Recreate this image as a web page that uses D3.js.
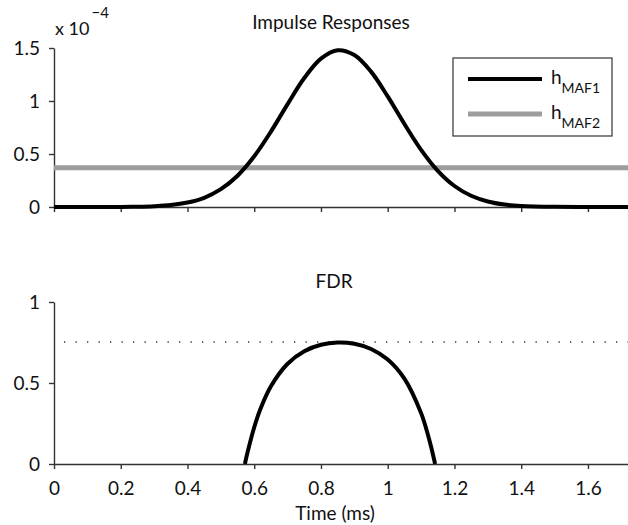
<!DOCTYPE html>
<html>
<head>
<meta charset="utf-8">
<script src="https://cdn.jsdelivr.net/npm/d3@7"></script>
<style>
  body { margin: 0; background: #fff; }
  text { font-family: Lato, "Open Sans", sans-serif; fill: #111; }
  .axis path, .axis line { stroke: #333; stroke-width: 1.4; }
  .axis text { font-size: 19px; font-family: Lato, "Open Sans", sans-serif; fill: #111; }
</style>
</head>
<body>
<svg id="chart" width="628" height="525"></svg>
<script>

// impulse response h_MAF1 (x 1e-4)
var timeH = [0, 0.1, 0.2, 0.25, 0.3, 0.35, 0.4, 0.45, 0.5, 0.55, 0.6, 0.65, 0.7, 0.75, 0.8, 0.85, 0.9, 0.95, 1.0, 1.05, 1.1, 1.15, 1.2, 1.25, 1.3, 1.35, 1.4, 1.5, 1.6, 1.72];
var hMaf1 = [0, 0.0001, 0.0009, 0.0027, 0.0074, 0.018, 0.042, 0.087, 0.168, 0.295, 0.478, 0.711, 0.971, 1.217, 1.400, 1.479, 1.434, 1.277, 1.043, 0.783, 0.539, 0.341, 0.198, 0.106, 0.052, 0.023, 0.0096, 0.0013, 0.0001, 0];
// h_MAF2 is flat
var timeFlat = [0, 1.72];
var hMaf2 = [0.37, 0.37];

// FDR curve
var timeFdr = [0.572, 0.58, 0.6, 0.62, 0.65, 0.7, 0.75, 0.8, 0.85, 0.9, 0.95, 1.0, 1.05, 1.1, 1.12, 1.13, 1.142];
var fdr = [0, 0.072, 0.227, 0.347, 0.480, 0.619, 0.696, 0.736, 0.750, 0.742, 0.710, 0.645, 0.527, 0.314, 0.184, 0.106, 0];
var fdrMax = 0.753;

var xTicks = [0, 0.2, 0.4, 0.6, 0.8, 1, 1.2, 1.4, 1.6];
var yTicksTop = [0, 0.5, 1, 1.5];
var yTicksBottom = [0, 0.5, 1];

var svg = d3.select('#chart');
var fmt = d3.format('~g');

var x = d3.scaleLinear().domain([0, 1.72]).range([54, 628]);
var yTop = d3.scaleLinear().domain([0, 1.5]).range([207, 48]);
var yBot = d3.scaleLinear().domain([0, 1]).range([464, 302]);

svg.append('defs').append('clipPath').attr('id', 'clipBot')
	.append('rect').attr('x', 54).attr('y', 290).attr('width', 574).attr('height', 174);

// top panel
svg.append('g').attr('class', 'axis')
	.attr('transform', 'translate(0,' + yTop(0) + ')')
	.call(d3.axisBottom(x).tickValues(xTicks).tickSize(5).tickSizeOuter(0).tickFormat(''));
svg.append('g').attr('class', 'axis')
	.attr('transform', 'translate(' + x(0) + ',0)')
	.call(d3.axisLeft(yTop).tickValues(yTicksTop).tickSize(5).tickSizeOuter(0).tickPadding(9).tickFormat(fmt));

var lineTop = d3.line().x(function (d) { return x(d[0]); }).y(function (d) { return yTop(d[1]); });

svg.append('path')
	.datum(d3.zip(timeFlat, hMaf2))
	.attr('d', lineTop)
	.attr('fill', 'none').attr('stroke', '#9d9d9d').attr('stroke-width', 5);
svg.append('path')
	.datum(d3.zip(timeH, hMaf1))
	.attr('d', lineTop.curve(d3.curveCatmullRom))
	.attr('fill', 'none').attr('stroke', '#000').attr('stroke-width', 4);

svg.append('text').attr('x', 331).attr('y', 29).attr('text-anchor', 'middle')
	.style('font-size', '19px').text('Impulse Responses');

var expo = svg.append('text').attr('x', 55).attr('y', 35).style('font-size', '18px');
expo.append('tspan').text('x 10');
expo.append('tspan').attr('dx', 2).attr('dy', -17).style('font-size', '15px').text('\u22124');

// legend
var leg = svg.append('g');
leg.append('rect').attr('x', 453).attr('y', 58).attr('width', 159).attr('height', 78)
	.attr('fill', '#fff').attr('stroke', '#333').attr('stroke-width', 1.2);
[['MAF1', '#000', 4, 79], ['MAF2', '#9d9d9d', 5, 114]].forEach(function (d) {
	leg.append('line').attr('x1', 468).attr('x2', 542).attr('y1', d[3]).attr('y2', d[3])
		.attr('stroke', d[1]).attr('stroke-width', d[2]);
	var t = leg.append('text').attr('x', 551).attr('y', d[3] + 5).style('font-size', '19px');
	t.append('tspan').text('h');
	t.append('tspan').attr('dy', 9).style('font-size', '14px').text(d[0]);
});

// bottom panel
svg.append('g').attr('class', 'axis')
	.attr('transform', 'translate(0,' + yBot(0) + ')')
	.call(d3.axisBottom(x).tickValues(xTicks).tickSize(5).tickSizeOuter(0).tickPadding(13).tickFormat(fmt));
svg.append('g').attr('class', 'axis')
	.attr('transform', 'translate(' + x(0) + ',0)')
	.call(d3.axisLeft(yBot).tickValues(yTicksBottom).tickSize(5).tickSizeOuter(0).tickPadding(9).tickFormat(fmt));

svg.append('line')
	.attr('x1', x(0.03)).attr('x2', x(1.72)).attr('y1', yBot(fdrMax)).attr('y2', yBot(fdrMax))
	.attr('stroke', '#333').attr('stroke-width', 1.3).attr('stroke-dasharray', '1.3,10.2');

var lineBot = d3.line().x(function (d) { return x(d[0]); }).y(function (d) { return yBot(d[1]); })
	.curve(d3.curveCatmullRom);
svg.append('path')
	.datum(d3.zip(timeFdr, fdr))
	.attr('d', lineBot)
	.attr('clip-path', 'url(#clipBot)')
	.attr('fill', 'none').attr('stroke', '#000').attr('stroke-width', 4);

svg.append('text').attr('x', 334).attr('y', 288).attr('text-anchor', 'middle')
	.style('font-size', '19px').text('FDR');
svg.append('text').attr('x', 335).attr('y', 520).attr('text-anchor', 'middle')
	.style('font-size', '19px').text('Time (ms)');
</script>
</body>
</html>
